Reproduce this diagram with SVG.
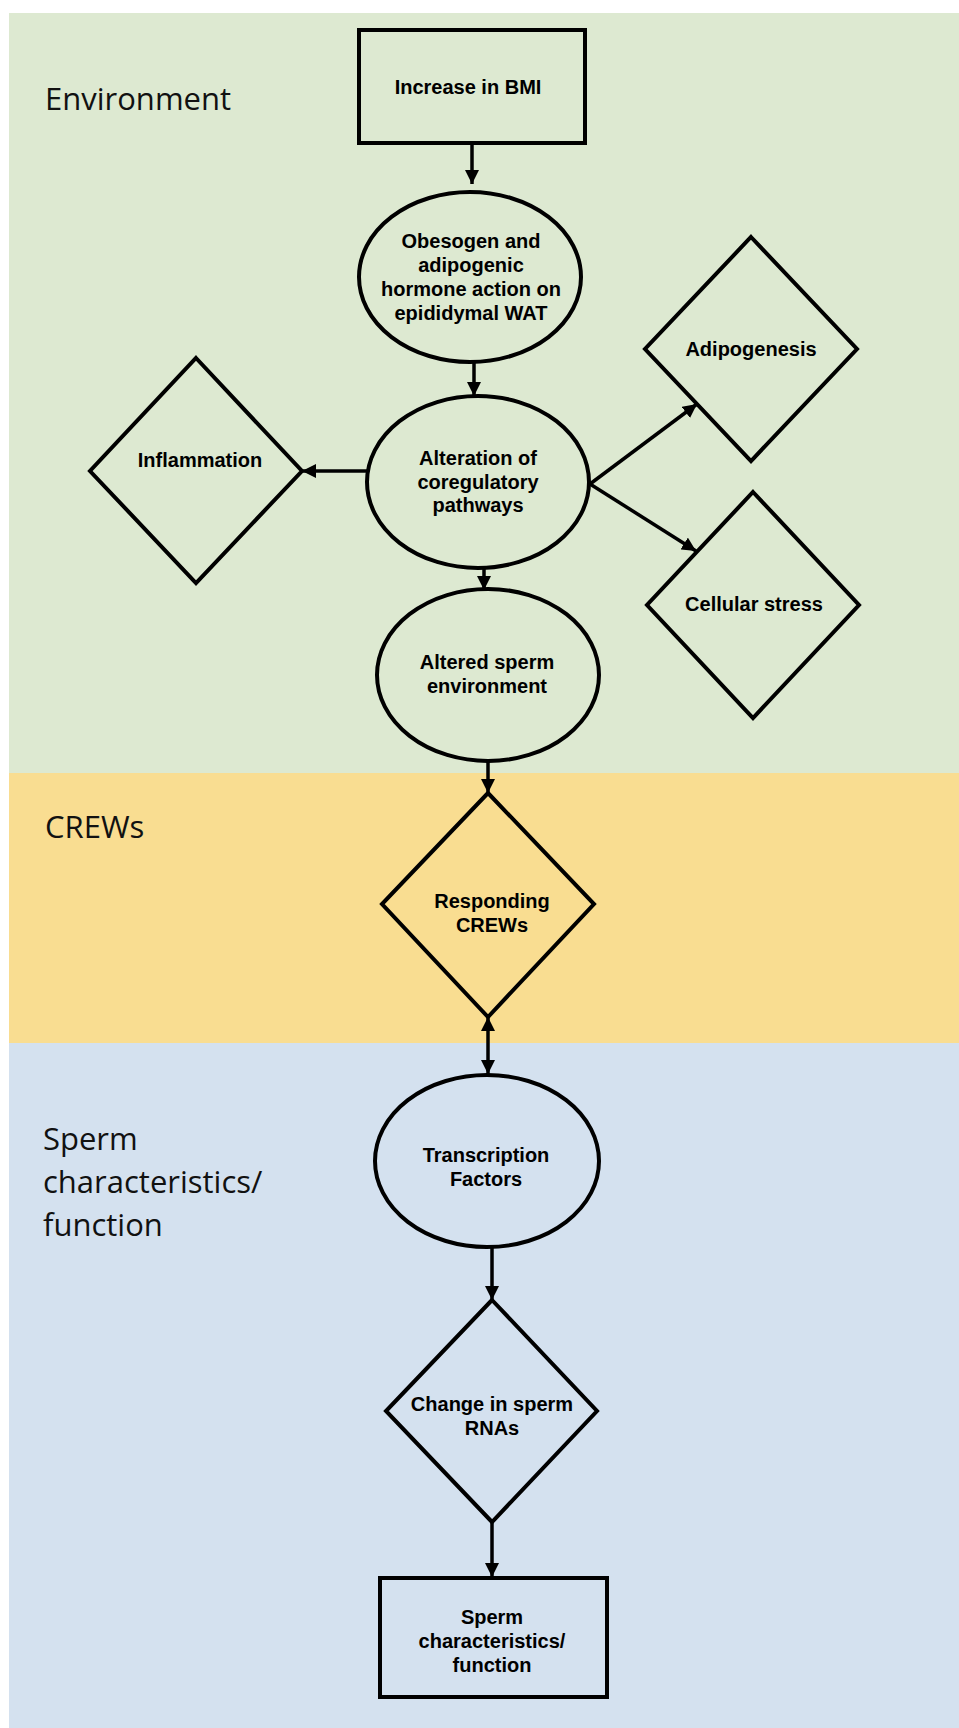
<svg xmlns="http://www.w3.org/2000/svg" width="959" height="1728" viewBox="0 0 959 1728">
<style>
.node{fill:none;stroke:#000;stroke-width:4}
.t{font-family:"Liberation Sans",Arial,sans-serif;font-weight:bold;font-size:20px;fill:#000;text-anchor:middle}
.lab{font-family:"Open Sans","Noto Sans",sans-serif;font-size:31px;fill:#111}
.c{fill:none;stroke:#000;stroke-width:3.5}
</style>
<defs>
<marker id="ah" markerUnits="userSpaceOnUse" markerWidth="14" markerHeight="14" refX="14" refY="7" orient="auto">
<path d="M0,0 L14,7 L0,14 z" fill="#000"/>
</marker>
<marker id="ahs" markerUnits="userSpaceOnUse" markerWidth="14" markerHeight="14" refX="14" refY="7" orient="auto-start-reverse">
<path d="M0,0 L14,7 L0,14 z" fill="#000"/>
</marker>
</defs>
<rect x="0" y="0" width="959" height="1728" fill="#fff"/>
<g id="bands">
<rect x="9" y="13" width="950" height="760" fill="#dde9d1"/>
<rect x="9" y="773" width="950" height="270" fill="#f9dd91"/>
<rect x="9" y="1043" width="950" height="685" fill="#d4e1ef"/>
<text class="lab" x="45" y="110">Environment</text>
<text class="lab" x="45" y="838">CREWs</text>
<text class="lab" x="43" y="1150">Sperm</text>
<text class="lab" x="43" y="1193">characteristics/</text>
<text class="lab" x="43" y="1236">function</text>
</g>
<g id="connectors">
<line class="c" x1="472" y1="143" x2="472" y2="184" marker-end="url(#ah)"/>
<line class="c" x1="474" y1="362" x2="474" y2="396" marker-end="url(#ah)"/>
<line class="c" x1="367" y1="471" x2="302" y2="471" marker-end="url(#ah)"/>
<line class="c" x1="590" y1="484" x2="697" y2="404" marker-end="url(#ah)"/>
<line class="c" x1="590" y1="484" x2="696" y2="551" marker-end="url(#ah)"/>
<line class="c" x1="484" y1="568" x2="484" y2="590" marker-end="url(#ah)"/>
<line class="c" x1="488" y1="761" x2="488" y2="793" marker-end="url(#ah)"/>
<line class="c" x1="488" y1="1017" x2="488" y2="1074" marker-start="url(#ahs)" marker-end="url(#ah)"/>
<line class="c" x1="492" y1="1247" x2="492" y2="1300" marker-end="url(#ah)"/>
<line class="c" x1="492" y1="1522" x2="492" y2="1577" marker-end="url(#ah)"/>
</g>
<g id="n-bmi">
<rect class="node" x="359" y="30" width="226" height="113"/>
<text class="t" x="468" y="94">Increase in BMI</text>
</g>
<g id="n-obesogen">
<ellipse class="node" cx="470" cy="277" rx="111" ry="85"/>
<text class="t" x="471" y="248">Obesogen and</text>
<text class="t" x="471" y="272">adipogenic</text>
<text class="t" x="471" y="296">hormone action on</text>
<text class="t" x="471" y="320">epididymal WAT</text>
</g>
<g id="n-alteration">
<ellipse class="node" cx="478" cy="482" rx="111" ry="86"/>
<text class="t" x="478" y="465">Alteration of</text>
<text class="t" x="478" y="489">coregulatory</text>
<text class="t" x="478" y="512">pathways</text>
</g>
<g id="n-inflammation">
<polygon class="node" points="196,358 302,471 196,583 90,471"/>
<text class="t" x="200" y="467">Inflammation</text>
</g>
<g id="n-adipogenesis">
<polygon class="node" points="751,237 857,349 751,461 645,349"/>
<text class="t" x="751" y="356">Adipogenesis</text>
</g>
<g id="n-cellular">
<polygon class="node" points="753,492 859,605 753,718 647,605"/>
<text class="t" x="754" y="611">Cellular stress</text>
</g>
<g id="n-altered">
<ellipse class="node" cx="488" cy="675" rx="111" ry="86"/>
<text class="t" x="487" y="669">Altered sperm</text>
<text class="t" x="487" y="693">environment</text>
</g>
<g id="n-responding">
<polygon class="node" points="488,793 594,904 488,1017 382,904"/>
<text class="t" x="492" y="908">Responding</text>
<text class="t" x="492" y="932">CREWs</text>
</g>
<g id="n-transcription">
<ellipse class="node" cx="487" cy="1161" rx="112" ry="86"/>
<text class="t" x="486" y="1162">Transcription</text>
<text class="t" x="486" y="1186">Factors</text>
</g>
<g id="n-change">
<polygon class="node" points="492,1300 597,1411 492,1522 386,1411"/>
<text class="t" x="492" y="1411">Change in sperm</text>
<text class="t" x="492" y="1435">RNAs</text>
</g>
<g id="n-sperm">
<rect class="node" x="380" y="1578" width="227" height="119"/>
<text class="t" x="492" y="1624">Sperm</text>
<text class="t" x="492" y="1648">characteristics/</text>
<text class="t" x="492" y="1672">function</text>
</g>
</svg>
